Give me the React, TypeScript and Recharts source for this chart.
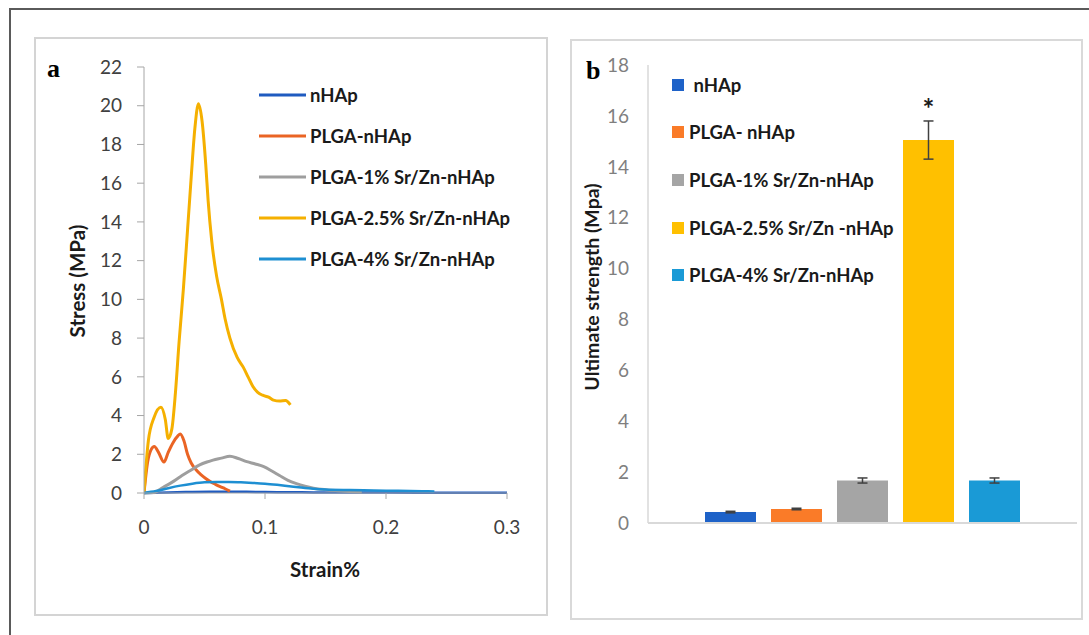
import React from "react";
import {
  Bar,
  BarChart,
  ErrorBar,
  Label,
  Legend,
  Line,
  LineChart,
  XAxis,
  YAxis
} from "recharts";

const FONT = "Lato, 'Open Sans', sans-serif";

// ---- panel a : stress / strain curves, points are [strain, stress]
const curveNames = [
  "nHAp",
  "PLGA-nHAp",
  "PLGA-1% Sr/Zn-nHAp",
  "PLGA-2.5% Sr/Zn-nHAp",
  "PLGA-4% Sr/Zn-nHAp"
];
const curveColors = ["#1F5BC0", "#EA6424", "#9E9E9E", "#F5B000", "#1E8FD2"];

const nhapCurve = [
  [0, 0], [0.02, 0.03], [0.04, 0.05], [0.06, 0.06], [0.08, 0.06], [0.1, 0.05],
  [0.12, 0.04], [0.14, 0.03], [0.16, 0.02], [0.2, 0.02], [0.25, 0.01], [0.3, 0.01]
];
const plgaCurve = [
  [0, 0], [0.003, 1.6], [0.006, 2.25], [0.0085, 2.4], [0.012, 2.1], [0.0165, 1.6],
  [0.02, 2.1], [0.024, 2.6], [0.028, 2.95], [0.03, 3.05], [0.033, 2.7], [0.036, 2.0],
  [0.039, 1.55], [0.043, 1.2], [0.047, 0.95], [0.051, 0.75], [0.055, 0.58],
  [0.059, 0.45], [0.063, 0.33], [0.067, 0.22], [0.071, 0.1]
];
const sr1Curve = [
  [0, 0], [0.008, 0.03], [0.016, 0.3], [0.023, 0.55], [0.03, 0.84], [0.038, 1.15],
  [0.046, 1.45], [0.052, 1.6], [0.057, 1.7], [0.064, 1.8], [0.071, 1.9], [0.078, 1.78],
  [0.085, 1.62], [0.092, 1.5], [0.099, 1.36], [0.106, 1.12], [0.112, 0.9],
  [0.119, 0.65], [0.126, 0.48], [0.133, 0.35], [0.14, 0.25], [0.15, 0.17],
  [0.16, 0.12], [0.17, 0.08], [0.18, 0.05]
];
const sr25Curve = [
  [0, 0], [0.0036, 2.7], [0.0083, 3.9], [0.014, 4.43], [0.0176, 3.8], [0.02, 2.82],
  [0.023, 3.3], [0.026, 5.2], [0.029, 7.8], [0.0325, 10.5], [0.036, 13.6],
  [0.039, 16.3], [0.042, 18.8], [0.045, 20.1], [0.048, 19.2], [0.051, 17.0],
  [0.053, 15.1], [0.056, 13.0], [0.06, 11.2], [0.064, 10.0], [0.067, 9.0],
  [0.071, 8.0], [0.077, 7.0], [0.082, 6.5], [0.086, 6.0], [0.09, 5.5], [0.094, 5.2],
  [0.098, 5.05], [0.103, 4.95], [0.107, 4.8], [0.112, 4.75], [0.117, 4.78], [0.121, 4.55]
];
const sr4Curve = [
  [0, 0], [0.01, 0.1], [0.02, 0.25], [0.03, 0.38], [0.04, 0.48], [0.05, 0.55],
  [0.06, 0.57], [0.07, 0.57], [0.08, 0.55], [0.09, 0.52], [0.1, 0.48], [0.11, 0.42],
  [0.12, 0.35], [0.13, 0.28], [0.14, 0.22], [0.15, 0.18], [0.17, 0.15], [0.19, 0.13],
  [0.21, 0.11], [0.23, 0.09], [0.24, 0.08]
];
const curves = [nhapCurve, plgaCurve, sr1Curve, sr25Curve, sr4Curve];

const strainTicks = [0, 0.1, 0.2, 0.3];
const stressTicks = [0, 2, 4, 6, 8, 10, 12, 14, 16, 18, 20, 22];

// ---- panel b : ultimate strength bars
const barNames = [
  " nHAp",
  "PLGA- nHAp",
  "PLGA-1% Sr/Zn-nHAp",
  "PLGA-2.5% Sr/Zn -nHAp",
  "PLGA-4% Sr/Zn-nHAp"
];
const barValues = [0.43, 0.55, 1.67, 15.05, 1.67];
const barErrors = [0.03, 0.03, 0.1, 0.75, 0.1];
const barColors = ["#1E62C8", "#FA7B28", "#A5A5A5", "#FFC000", "#1A9AD6"];
const strengthTicks = [0, 2, 4, 6, 8, 10, 12, 14, 16, 18];

const barRow: Record<string, any> = { name: "" };
barValues.forEach((v, i) => {
  barRow[`s${i}`] = v;
  barRow[`e${i}`] = barErrors[i];
});
const barData = [barRow];

const titleStyle = { fontFamily: FONT, fontWeight: 700, fontSize: 20.5, fill: "#1a1a1a" };
const tickFont = 19;

function LineLegend() {
  return (
    <div style={{ fontFamily: FONT }}>
      {curveNames.map((name, i) => (
        <div key={name} style={{ display: "flex", alignItems: "center", height: 41 }}>
          <svg width={47} height={4}>
            <line x1={0} y1={2} x2={47} y2={2} stroke={curveColors[i]} strokeWidth={3} />
          </svg>
          <span style={{ marginLeft: 4, fontWeight: 700, fontSize: 18.5, color: "#1a1a1a" }}>
            {name}
          </span>
        </div>
      ))}
    </div>
  );
}

function BarLegend() {
  return (
    <div style={{ fontFamily: FONT }}>
      {barNames.map((name, i) => (
        <div key={name} style={{ display: "flex", alignItems: "center", height: 47.6 }}>
          <div style={{ width: 12, height: 12, background: barColors[i] }} />
          <span
            style={{
              marginLeft: 5,
              fontWeight: 700,
              fontSize: 18.5,
              color: "#1a1a1a",
              whiteSpace: "pre"
            }}
          >
            {name}
          </span>
        </div>
      ))}
    </div>
  );
}

const renderStar = (props: any) => {
  const { x, y, width } = props;
  return (
    <text
      x={x + width / 2}
      y={y - 21}
      textAnchor="middle"
      style={{ fontFamily: FONT, fontWeight: 700, fontSize: 28, fill: "#1a1a1a" }}
    >
      *
    </text>
  );
};

function StressStrainChart() {
  return (
    <LineChart width={514} height={579} margin={{ top: 30, right: 41, bottom: 83, left: 50 }}>
      <XAxis
        dataKey="x"
        type="number"
        domain={[0, 0.3]}
        ticks={strainTicks}
        height={40}
        tickSize={6}
        tickMargin={22}
        stroke="#A6A6A6"
        tick={{ fill: "#404040", fontSize: tickFont, fontFamily: FONT }}
        allowDataOverflow
      >
        <Label
          content={() => (
            <text x={291} y={532} textAnchor="middle" dominantBaseline="central" style={titleStyle}>
              Strain%
            </text>
          )}
        />
      </XAxis>
      <YAxis
        dataKey="y"
        type="number"
        domain={[0, 22]}
        ticks={stressTicks}
        width={60}
        tickSize={7}
        tickMargin={15}
        stroke="#A6A6A6"
        tick={{ fill: "#404040", fontSize: tickFont, fontFamily: FONT }}
      >
        <Label
          content={() => (
            <text
              x={43}
              y={244}
              transform="rotate(-90 43 244)"
              textAnchor="middle"
              dominantBaseline="central"
              style={titleStyle}
            >
              Stress (MPa)
            </text>
          )}
        />
      </YAxis>
      <Legend
        layout="vertical"
        align="center"
        verticalAlign="middle"
        content={<LineLegend />}
        wrapperStyle={{ left: 225, top: 37, width: 270 }}
      />
      {curves.map((pts, i) => (
        <Line
          key={curveNames[i]}
          name={curveNames[i]}
          data={pts.map(([x, y]) => ({ x, y }))}
          dataKey="y"
          type="monotone"
          stroke={curveColors[i]}
          strokeWidth={i === 0 || i === 4 ? 2.5 : 3}
          dot={false}
          activeDot={false}
          isAnimationActive={false}
        />
      ))}
    </LineChart>
  );
}

function StrengthChart() {
  return (
    <BarChart
      width={513}
      height={581}
      data={barData}
      barGap={15}
      margin={{ top: 26, right: 6, bottom: 96, left: 38 }}
    >
      <XAxis
        dataKey="name"
        height={1}
        tick={false}
        tickLine={false}
        axisLine={{ stroke: "#D9D9D9", strokeWidth: 2 }}
      />
      <YAxis
        type="number"
        domain={[0, 18]}
        ticks={strengthTicks}
        width={40}
        tickLine={false}
        tickSize={0}
        tickMargin={19}
        axisLine={{ stroke: "#D9D9D9", strokeWidth: 1.5 }}
        tick={{ fill: "#7F7F7F", fontSize: tickFont, fontFamily: FONT }}
      >
        <Label
          content={() => (
            <text
              x={21}
              y={248}
              transform="rotate(-90 21 248)"
              textAnchor="middle"
              dominantBaseline="central"
              style={{ ...titleStyle, fontSize: 19.5 }}
            >
              Ultimate strength (Mpa)
            </text>
          )}
        />
      </YAxis>
      <Legend
        layout="vertical"
        align="center"
        verticalAlign="middle"
        content={<BarLegend />}
        wrapperStyle={{ left: 102, top: 22, width: 270 }}
      />
      {barNames.map((name, i) => (
        <Bar
          key={name}
          name={name}
          dataKey={`s${i}`}
          fill={barColors[i]}
          barSize={51}
          isAnimationActive={false}
          label={i === 3 ? renderStar : undefined}
        >
          <ErrorBar dataKey={`e${i}`} width={5} stroke="#404040" strokeWidth={1.5} />
        </Bar>
      ))}
    </BarChart>
  );
}

export default function App() {
  return (
    <div
      style={{
        position: "absolute",
        left: 0,
        top: 0,
        width: 1089,
        height: 635,
        overflow: "hidden",
        background: "#fff",
        fontFamily: FONT
      }}
    >
      <div
        style={{
          position: "absolute",
          left: 9,
          top: 8,
          width: 1200,
          height: 800,
          border: "2px solid #5a5a5a"
        }}
      />
      <div
        style={{
          position: "absolute",
          left: 34,
          top: 37,
          width: 514,
          height: 579,
          boxSizing: "border-box",
          border: "2px solid #d4d4d4"
        }}
      />
      <div
        style={{
          position: "absolute",
          left: 570,
          top: 39,
          width: 513,
          height: 581,
          boxSizing: "border-box",
          border: "2px solid #d9d9d9"
        }}
      />
      <div style={{ position: "absolute", left: 34, top: 37 }}>
        <StressStrainChart />
      </div>
      <div style={{ position: "absolute", left: 570, top: 39 }}>
        <StrengthChart />
      </div>
      <div
        style={{
          position: "absolute",
          left: 47,
          top: 56,
          fontFamily: "'Liberation Serif', serif",
          fontWeight: 700,
          fontSize: 26,
          lineHeight: 1
        }}
      >
        a
      </div>
      <div
        style={{
          position: "absolute",
          left: 586,
          top: 58,
          fontFamily: "'Liberation Serif', serif",
          fontWeight: 700,
          fontSize: 26,
          lineHeight: 1
        }}
      >
        b
      </div>
    </div>
  );
}
